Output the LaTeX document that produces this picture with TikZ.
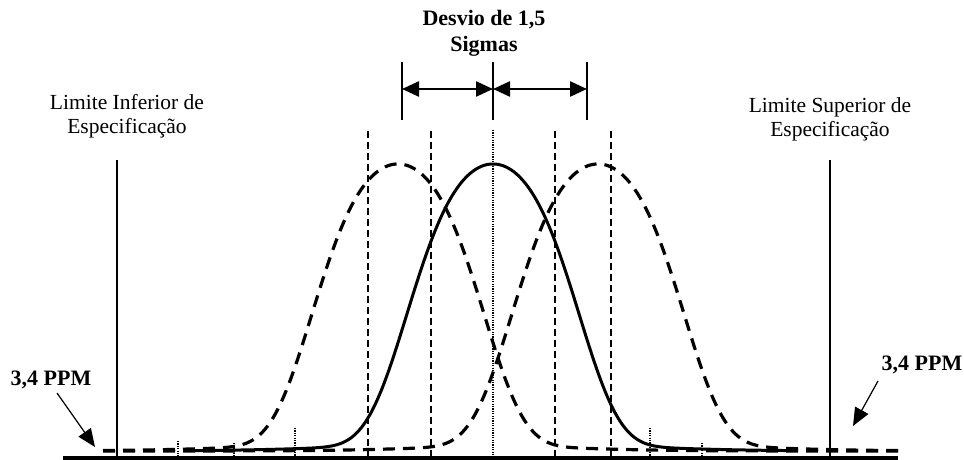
\documentclass[tikz,border=0pt]{standalone}
\usepackage{fontspec}
\setmainfont{Liberation Serif}
\usetikzlibrary{arrows.meta}
\begin{document}
\begin{tikzpicture}[x=1pt,y=-1pt,
  lbl/.style={font=\fontsize{21.5}{24}\selectfont, align=center, inner sep=0pt},
  blbl/.style={font=\fontsize{22}{26}\selectfont\bfseries, align=center, inner sep=0pt},
  dcurve/.style={line width=3.2pt, dash pattern=on 12pt off 8pt},
  scurve/.style={line width=3pt},
  vdash/.style={line width=1.7pt, dash pattern=on 7pt off 4pt},
  vdot/.style={line width=1.5pt, dash pattern=on 1.2pt off 1.2pt},
  speclim/.style={line width=2pt},
  dimarrow/.style={line width=2.4pt, {Triangle[length=17pt,width=15pt]}-{Triangle[length=17pt,width=15pt]}},
  ptr/.style={line width=1.2pt, -{Triangle[length=18pt,width=15pt]}}
]
\useasboundingbox (0,0) rectangle (964,460);
% baseline
\coordinate (b0) at (63,458);
\coordinate (b1) at (898,458);
\draw[line width=4.5pt] (b0) -- (b1);
% spec limits
\coordinate (ls0) at (117,160); \coordinate (ls1) at (117,458);
\coordinate (us0) at (830,160); \coordinate (us1) at (830,458);
\draw[speclim] (ls0) -- (ls1);
\draw[speclim] (us0) -- (us1);
% vertical dashed lines
\foreach \xx in {368,431,555,611}{
  \draw[vdash] (\xx,131) -- (\xx,458);
}
% center dotted
\coordinate (c0) at (493,130); \coordinate (c1) at (493,458);
\draw[vdot] (c0) -- (c1);
% small dotted ticks
\draw[vdot] (178,441) -- (178,458);
\draw[vdot] (234,443) -- (234,458);
\draw[vdot] (295,428) -- (295,458);
\draw[vdot] (650,428) -- (650,458);
\draw[vdot] (702,443) -- (702,458);
% curves
\draw[dcurve] plot[domain=103:898, samples=260, smooth] (\x, {451-278*exp(-0.624*((\x-398)/100)^2-0.543*((\x-398)/100)^4)-9*exp(-((\x-398)/170)^2)});
\draw[dcurve] plot[domain=103:898, samples=260, smooth] (\x, {451-278*exp(-0.624*((\x-598)/100)^2-0.543*((\x-598)/100)^4)-9*exp(-((\x-598)/170)^2)});
\draw[scurve] plot[domain=195:793, samples=220, smooth] (\x, {451-278*exp(-0.624*((\x-493)/100)^2-0.543*((\x-493)/100)^4)-9*exp(-((\x-493)/170)^2)});
% top dimension lines
\coordinate (t1a) at (402,62); \coordinate (t1b) at (402,120);
\coordinate (t2a) at (493,62); \coordinate (t2b) at (493,120);
\coordinate (t3a) at (587,62); \coordinate (t3b) at (587,120);
\draw[line width=2pt] (t1a) -- (t1b);
\draw[line width=2pt] (t2a) -- (t2b);
\draw[line width=2pt] (t3a) -- (t3b);
\coordinate (a1) at (402,89); \coordinate (a2) at (493,89); \coordinate (a3) at (587,89);
\draw[dimarrow] (a1) -- (a2);
\draw[dimarrow] (a2) -- (a3);
% labels
\node[blbl] (desvio) at (484,33) {Desvio de 1,5\\Sigmas};
\node[lbl] (lie) at (127,116) {Limite Inferior de\\Especificação};
\node[lbl] (lse) at (830,119) {Limite Superior de\\Especificação};
\node[blbl] (ppmL) at (51,380) {3,4 PPM};
\node[blbl] (ppmR) at (922,365) {3,4 PPM};
\coordinate (pL) at (95,447);
\coordinate (pR) at (853,426);
\draw[ptr] (57,393) -- (pL);
\draw[ptr] (878,381) -- (pR);
\end{tikzpicture}
\end{document}
